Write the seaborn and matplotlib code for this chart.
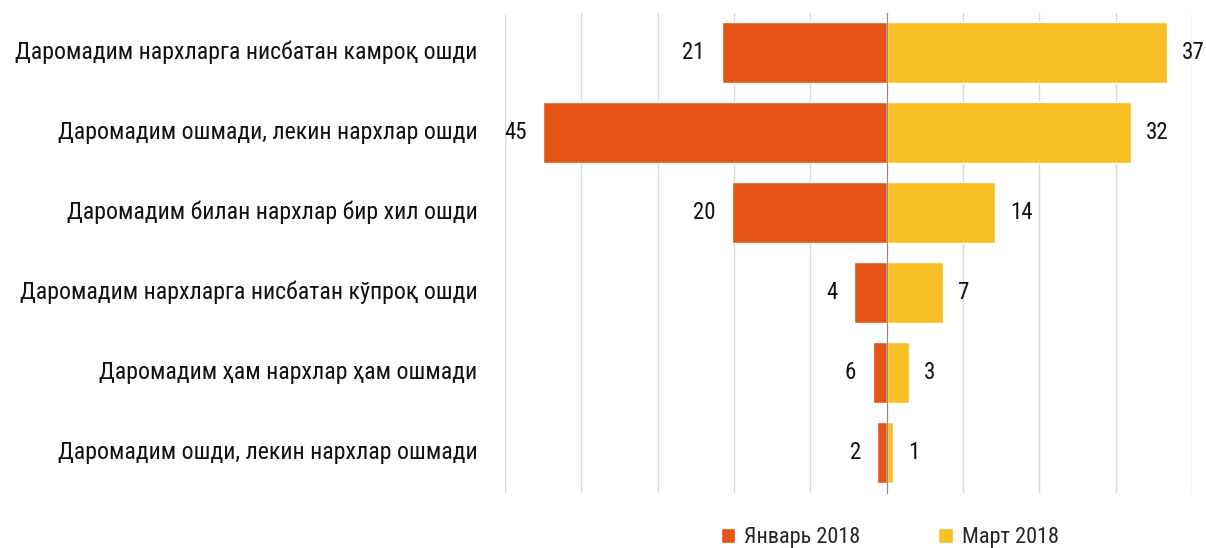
import matplotlib
matplotlib.use("Agg")
import matplotlib.pyplot as plt
import seaborn as sns
import numpy as np

categories = [
    "Даромадим нархларга нисбатан камроқ ошди",
    "Даромадим ошмади, лекин нархлар ошди",
    "Даромадим билан нархлар бир хил ошди",
    "Даромадим нархларга нисбатан кўпроқ ошди",
    "Даромадим ҳам нархлар ҳам ошмади",
    "Даромадим ошди, лекин нархлар ошмади",
]
# длина столбцов, как на рисунке
jan_2018 = [21.6, 45.0, 20.2, 4.3, 1.8, 1.2]
mar_2018 = [36.7, 32.0, 14.2, 7.4, 2.9, 0.8]
# подписи значений
jan_labels = ["21", "45", "20", "4", "6", "2"]
mar_labels = ["37", "32", "14", "7", "3", "1"]
series_names = ["Январь 2018", "Март 2018"]
colors = ["#E35416", "#F6C024"]

sns.set_style("white")
plt.rcParams["font.family"] = ["Roboto Condensed", "DejaVu Sans"]

fig, ax = plt.subplots(figsize=(12.06, 5.48), dpi=100)
fig.subplots_adjust(left=0.4187, right=0.9884, top=0.9768, bottom=0.1009)

jan_neg = [-v for v in jan_2018]
sns.barplot(x=jan_neg, y=categories, orient="h", color=colors[0],
            width=0.76, ax=ax, label=series_names[0], saturation=1)
sns.barplot(x=mar_2018, y=categories, orient="h", color=colors[1],
            width=0.76, ax=ax, label=series_names[1], saturation=1)

ax.set_xlim(-50, 40)
ax.set_ylim(len(categories) - 0.5, -0.5)
ax.set_xticks(np.arange(-50, 41, 10))
ax.set_xticklabels([])
ax.tick_params(axis="x", length=0)
ax.grid(axis="x", color="#d9d9d9", linewidth=1)
ax.set_axisbelow(True)

# центральная ось с засечками между категориями
for s in ["top", "right", "bottom"]:
    ax.spines[s].set_visible(False)
ax.spines["left"].set_position(("data", 0))
ax.spines["left"].set_color("#8c8c8c")
ax.spines["left"].set_zorder(5)
ax.set_yticks(np.arange(-0.5, len(categories), 1))
ax.set_yticklabels([])
ax.tick_params(axis="y", length=5, color="#8c8c8c", direction="out")
ax.set_xlabel("")
ax.set_ylabel("")

# подписи категорий
for i, cat in enumerate(categories):
    ax.text(-0.04, i, cat, transform=ax.get_yaxis_transform(),
            ha="right", va="center", fontsize=17.2, color="#111111")

# подписи значений
for i, (a, b) in enumerate(zip(jan_2018, mar_2018)):
    ax.annotate(jan_labels[i], (-a, i), xytext=(-12, 0), textcoords="offset points",
                ha="right", va="center", fontsize=16.5, color="#111111")
    ax.annotate(mar_labels[i], (b, i), xytext=(11, 0), textcoords="offset points",
                ha="left", va="center", fontsize=16.5, color="#111111")

ax.legend(loc="upper center", bbox_to_anchor=(0.56, -0.03), ncol=2,
          frameon=False, fontsize=16, handlelength=0.65, handleheight=0.65,
          columnspacing=3.5, handletextpad=0.4)

fig.savefig("out.png", dpi=100)
